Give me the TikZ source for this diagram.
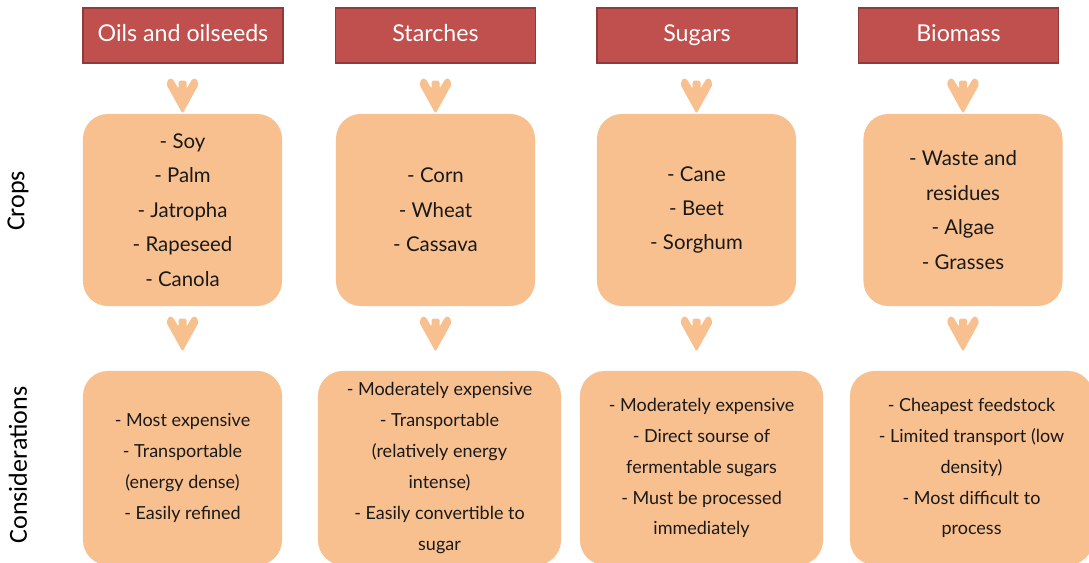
\documentclass[tikz,border=0pt]{standalone}
\usepackage{fontspec}
\setmainfont{Lato}
\newfontfamily\sidefont{Carlito}
\usetikzlibrary{positioning}
\definecolor{hdrred}{HTML}{C0504D}
\definecolor{hdredge}{HTML}{8E3B39}
\definecolor{peach}{HTML}{F9C08F}
\begin{document}
\begin{tikzpicture}[x=0.025cm,y=-0.025cm,
    header/.style={draw=hdredge,line width=1.1pt,fill=hdrred,text=white,
        minimum width=5cm,minimum height=1.375cm,text height=0.95em,text depth=0.05em,
        font=\fontsize{16.5}{18}\selectfont},
    cropbox/.style={fill=peach,rounded corners=0.62cm,minimum width=4.975cm,
        minimum height=4.8cm,align=center,text=black!90,font=\fontsize{14.5}{24.5}\selectfont},
    conbox/.style={fill=peach,rounded corners=0.62cm,minimum height=4.85cm,
        align=center,text=black!90,font=\fontsize{12.8}{22}\selectfont},
    side/.style={rotate=90,font=\sidefont\fontsize{18.5}{20}\selectfont},
    chevron/.pic={\fill[peach,rounded corners=1pt]
        (0,0) -- (-16,-29) -- (-14,-35) -- (-10,-35) -- (-4,-25) -- (-4,-33)
        -- (4,-33) -- (4,-25) -- (10,-35) -- (14,-35) -- (16,-29) -- cycle;}]
    \useasboundingbox (0,0) rectangle (1089,563);
    \clip (0,0) rectangle (1089,563);

    % headers
    \node[header] (h1) at (183,35.5) {Oils and oilseeds};
    \node[header] (h2) at (435.5,35.5) {Starches};
    \node[header] (h3) at (697,35.5) {Sugars};
    \node[header] (h4) at (958.5,35.5) {Biomass};

    % crops
    \node[cropbox] (c1) at (182.5,210) {- Soy\\- Palm\\- Jatropha\\- Rapeseed\\- Canola};
    \node[cropbox] (c2) at (435.5,210) {- Corn\\- Wheat\\- Cassava};
    \node[cropbox] (c3) at (696.5,210) {- Cane\\- Beet\\- Sorghum};
    \node[cropbox] (c4) at (963,210) {- Waste and\\residues\\- Algae\\- Grasses};

    % considerations
    \node[conbox,minimum width=4.975cm] (k1) at (182.5,468)
        {- Most expensive\\- Transportable\\(energy dense)\\- Easily refined};
    \node[conbox,minimum width=6.075cm] (k2) at (439.5,468)
        {- Moderately expensive\\- Transportable\\(relatively energy\\intense)\\- Easily convertible to\\sugar};
    \node[conbox,minimum width=6.075cm] (k3) at (701.5,468)
        {- Moderately expensive\\- Direct sourse of\\fermentable sugars\\- Must be processed\\immediately};
    \node[conbox,minimum width=6.075cm] (k4) at (971.5,468)
        {- Cheapest feedstock\\- Limited transport (low\\density)\\- Most difficult to\\process};

    \node[side] (lcrops) at (18,201) {Crops};
    \node[side] (lcons) at (18,465) {Considerations};

    \foreach \i in {1,...,4}{
        \pic at (c\i.north) {chevron};
        \path (c\i.south |- k\i.north) ++(0,-19) coordinate (t\i);
        \pic at (t\i) {chevron};
    }
\end{tikzpicture}
\end{document}
